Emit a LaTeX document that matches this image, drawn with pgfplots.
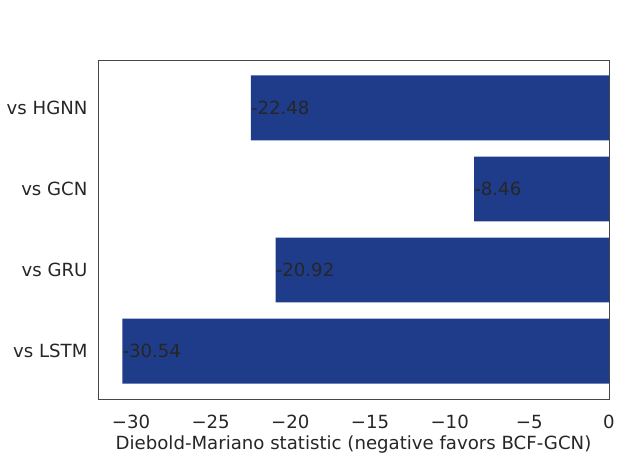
\documentclass[border=0pt]{standalone}
\usepackage{pgfplots}
\pgfplotsset{compat=1.18}
\usepackage{fontspec}
\setmainfont{DejaVu Sans}
\definecolor{barblue}{RGB}{31,60,138}
\definecolor{txt}{RGB}{38,38,38}
\definecolor{frame}{RGB}{70,70,70}
\begin{document}
\begin{tikzpicture}
\useasboundingbox (-98bp,-59bp) rectangle (523bp,399bp);
\begin{axis}[
  at={(0,0)}, anchor=south west,
  scale only axis,
  width=511bp, height=339bp,
  xmin=-32.07, xmax=0,
  ymin=-0.59, ymax=3.59,
  axis line style={frame, line width=0.9pt},
  xtick={-30,-25,-20,-15,-10,-5,0},
  xticklabels={−30,−25,−20,−15,−10,−5,0},
  ytick={0,1,2,3},
  yticklabels={vs LSTM,vs GRU,vs GCN,vs HGNN},
  major tick length=0pt,
  tick label style={font=\fontsize{18.2}{20}\selectfont, text=txt},
  xticklabel style={yshift=-13bp},
  yticklabel style={xshift=-7bp},
  xlabel={Diebold-Mariano statistic (negative favors BCF-GCN)},
  xlabel style={font=\fontsize{18.2}{20}\selectfont, text=txt, yshift=0bp},
  /pgf/number format/assume math mode=true,
]
\addplot[xbar, bar width=0.8, fill=barblue, draw=none,
  point meta=explicit symbolic,
  nodes near coords,
  nodes near coords style={anchor=west, inner sep=0pt, text=txt, font=\fontsize{18.2}{20}\selectfont},
] table[x=x, y=y, meta=lab] {
x y lab
-30.54 0 -30.54
-20.92 1 -20.92
-8.46 2 -8.46
-22.48 3 -22.48
};
\end{axis}
\end{tikzpicture}
\end{document}
